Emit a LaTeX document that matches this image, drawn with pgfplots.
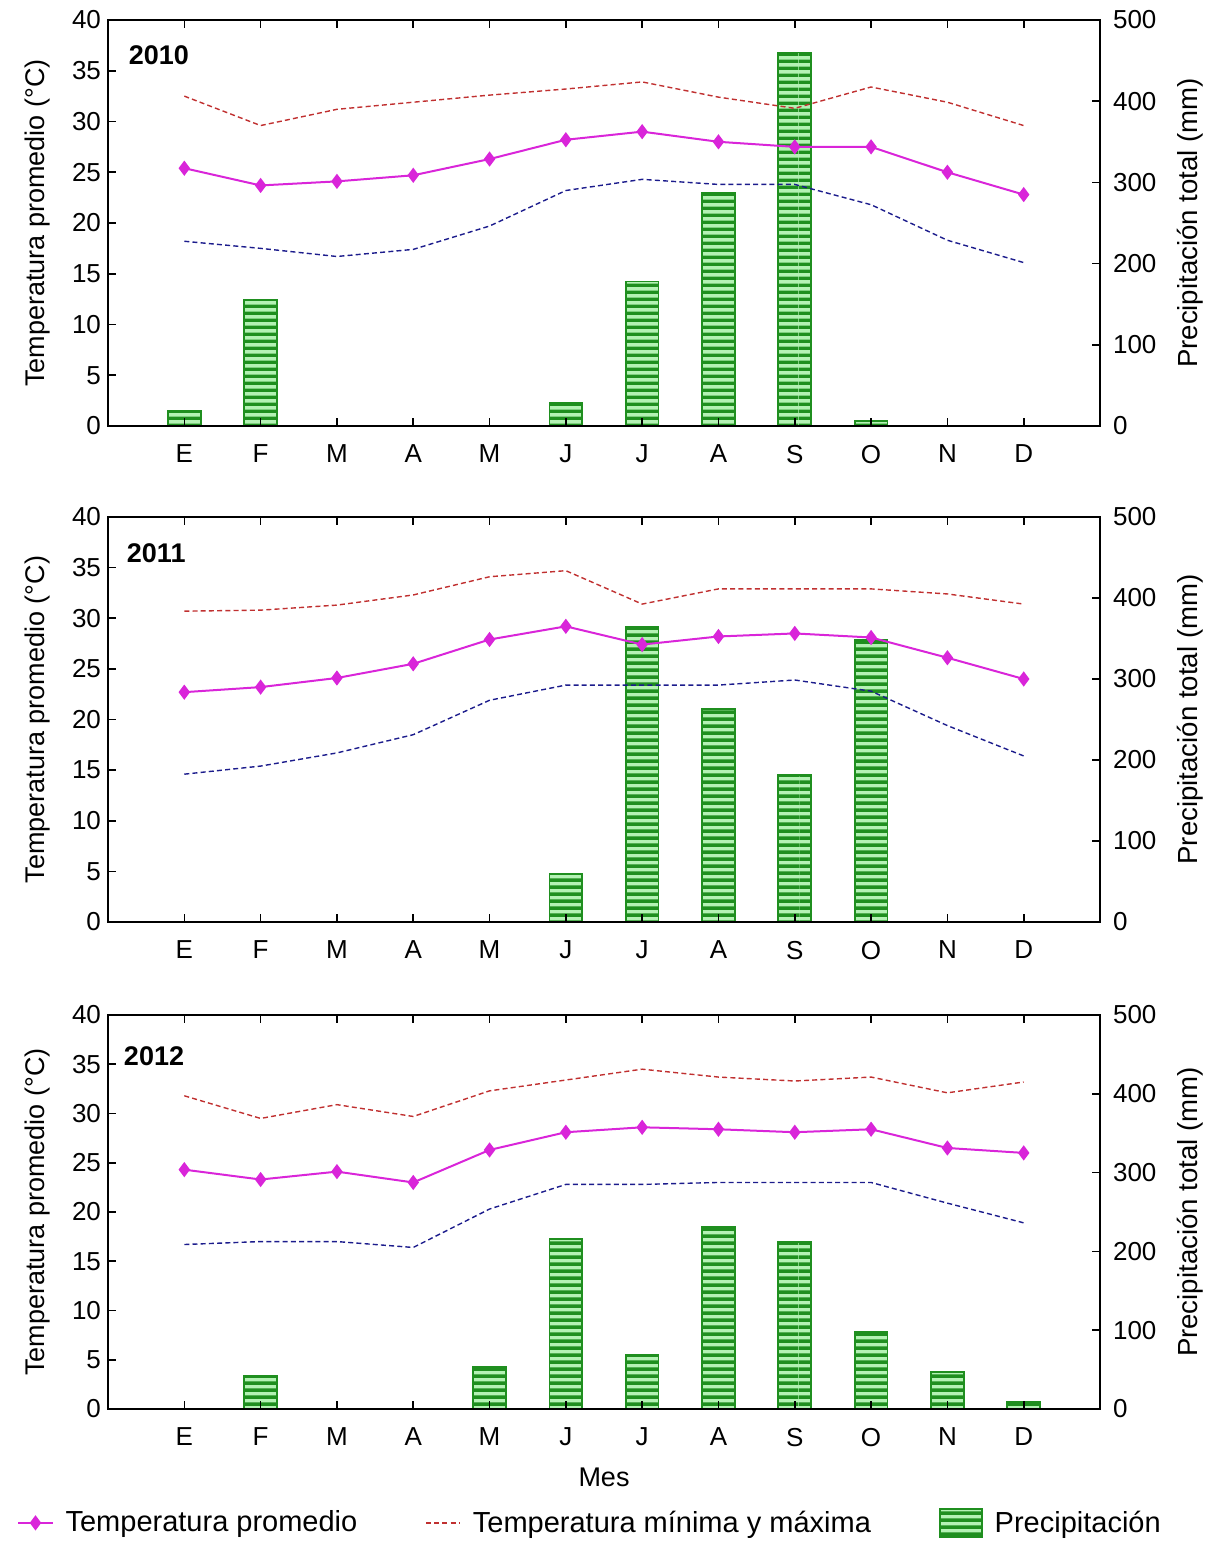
\documentclass[border=0pt]{standalone}
\usepackage{fontspec}
\setmainfont{Liberation Sans}
\usepackage{pgfplots}
\pgfplotsset{compat=1.18}
\usepackage{pgfplotstable}
\usetikzlibrary{patterns}

\definecolor{meanc}{HTML}{D925D9}
\definecolor{maxc}{HTML}{C03030}
\definecolor{minc}{HTML}{1C1C8C}
\definecolor{bardark}{HTML}{1F8F1F}
\definecolor{barlight}{HTML}{B4F2B4}

\pgfdeclarepatternformonly{hstripes}{\pgfpoint{0pt}{0pt}}{\pgfpoint{200pt}{3.4pt}}{\pgfpoint{200pt}{3.4pt}}{%
  \pgfpathrectangle{\pgfpoint{0pt}{0pt}}{\pgfpoint{200pt}{1.8pt}}\pgfusepath{fill}}

\pgfplotstableread{
m mean tmax tmin
1 25.4 32.5 18.2
2 23.7 29.6 17.5
3 24.1 31.2 16.7
4 24.7 31.9 17.4
5 26.3 32.6 19.7
6 28.2 33.2 23.2
7 29.0 33.9 24.3
8 28.0 32.4 23.8
9 27.5 31.3 23.8
10 27.5 33.4 21.8
11 25.0 31.9 18.3
12 22.8 29.6 16.1
}\tA
\pgfplotstableread{
m mean tmax tmin
1 22.7 30.7 14.6
2 23.2 30.8 15.4
3 24.1 31.3 16.7
4 25.5 32.3 18.5
5 27.9 34.1 21.9
6 29.2 34.7 23.4
7 27.4 31.4 23.4
8 28.2 32.9 23.4
9 28.5 32.9 23.9
10 28.1 32.9 22.8
11 26.1 32.4 19.4
12 24.0 31.4 16.4
}\tB
\pgfplotstableread{
m mean tmax tmin
1 24.3 31.8 16.7
2 23.3 29.5 17.0
3 24.1 30.9 17.0
4 23.0 29.7 16.4
5 26.3 32.3 20.3
6 28.1 33.4 22.8
7 28.6 34.5 22.8
8 28.4 33.7 23.0
9 28.1 33.3 23.0
10 28.4 33.7 23.0
11 26.5 32.1 20.9
12 26.0 33.2 18.9
}\tC

\tikzset{
  barsty/.style={draw=bardark, line width=0.9pt, fill=barlight,
    postaction={pattern=hstripes, pattern color=bardark}},
  linelegend/.style={legend image code/.code={\draw[mark repeat=2, mark phase=2] (0pt,0pt) -- plot coordinates {(12pt,0pt)} (24pt,0pt);}},
  meansty/.style={color=meanc, line width=1pt, mark=diamond*, mark size=3pt, mark options={fill=meanc, draw=meanc, solid}, linelegend},
  maxsty/.style={color=maxc, line width=0.7pt, dash pattern=on 2.5pt off 1.6pt, linelegend},
  minsty/.style={color=minc, line width=0.7pt, dash pattern=on 2.5pt off 1.6pt},
  yearlab/.style={anchor=west, font=\bfseries\fontsize{13.5}{15}\selectfont},
}

\pgfplotsset{
  common/.style={
    scale only axis, width=496pt, xmin=0, xmax=13,
    tick align=inside, major tick length=4pt,
    axis line style={line width=0.8pt},
    every tick/.style={black, line width=0.8pt},
    tick label style={font=\fontsize{13}{15}\selectfont},
    label style={font=\fontsize{13.5}{15}\selectfont},
    /pgf/number format/assume math mode=true,
  },
  baraxis/.style={common,
    ymin=0, ymax=500, axis x line=none, axis y line*=right,
    ytick={0,100,...,500},
    yticklabel style={xshift=3pt},
    ylabel={Precipitación total (mm)},
    ylabel style={at={(axis description cs:1.0907,0.5)}, anchor=center, font=\fontsize{13.8}{15}\selectfont},
    ybar, bar width=0.43,
  },
  tempaxis/.style={common,
    ymin=0, ymax=40, ytick={0,5,...,40}, ytick pos=left,
    xtick={1,...,12}, xticklabels={E,F,M,A,M,J,J,A,S,O,N,D},
    xtick pos=both, xticklabel pos=bottom,
    xticklabel style={yshift=-6pt},
    ylabel={Temperatura promedio (°C)},
    ylabel style={at={(axis description cs:-0.0706,0.5)}, anchor=center},
  },
}

\begin{document}
\begin{tikzpicture}
\path[use as bounding box] (0,0) rectangle (605.5pt,-771pt);

% ---------- 2010 ----------
\begin{axis}[baraxis, height=203pt, at={(54pt,-10pt)}, anchor=north west]
\addplot[barsty] coordinates {(1,18) (2,155) (6,28) (7,178) (8,287) (9,460) (10,6)};
\end{axis}
\begin{axis}[tempaxis, height=203pt, at={(54pt,-10pt)}, anchor=north west]
\addplot[maxsty] table[x=m, y=tmax] {\tA};
\addplot[minsty] table[x=m, y=tmin] {\tA};
\addplot[meansty] table[x=m, y=mean] {\tA};
\node[yearlab] at (rel axis cs:0.014,0.914) {2010};
\end{axis}

% ---------- 2011 ----------
\begin{axis}[baraxis, height=202.5pt, at={(54pt,-258.5pt)}, anchor=north west]
\addplot[barsty] coordinates {(6,60) (7,364) (8,263) (9,181) (10,348)};
\end{axis}
\begin{axis}[tempaxis, height=202.5pt, at={(54pt,-258.5pt)}, anchor=north west]
\addplot[maxsty] table[x=m, y=tmax] {\tB};
\addplot[minsty] table[x=m, y=tmin] {\tB};
\addplot[meansty] table[x=m, y=mean] {\tB};
\node[yearlab] at (rel axis cs:0.012,0.911) {2011};
\end{axis}

% ---------- 2012 ----------
\begin{axis}[baraxis, height=197pt, at={(54pt,-507.5pt)}, anchor=north west]
\addplot[barsty] coordinates {(2,42) (5,53) (6,216) (7,69) (8,231) (9,212) (10,98) (11,47) (12,9)};
\end{axis}
\begin{axis}[tempaxis, height=197pt, at={(54pt,-507.5pt)}, anchor=north west,
  xlabel={Mes},
  xlabel style={at={(axis description cs:0.5,-0.1726)}, anchor=center},
  legend columns=3,
  legend style={at={(axis description cs:0.487,-0.289)}, anchor=center, draw=none,
    font=\fontsize{14.5}{16}\selectfont,
    /tikz/every odd column/.append style={column sep=4pt},
    /tikz/every even column/.append style={column sep=32pt}},
]
\addplot[meansty] table[x=m, y=mean] {\tC};
\addlegendentry{Temperatura promedio}
\addplot[maxsty] table[x=m, y=tmax] {\tC};
\addlegendentry{Temperatura mínima y máxima}
\addplot[minsty, forget plot] table[x=m, y=tmin] {\tC};
\addlegendimage{legend image code/.code={\draw[barsty] (0pt,-7pt) rectangle (21pt,7pt);}}
\addlegendentry{Precipitación}
\node[yearlab] at (rel axis cs:0.009,0.896) {2012};
\end{axis}
\end{tikzpicture}
\end{document}
